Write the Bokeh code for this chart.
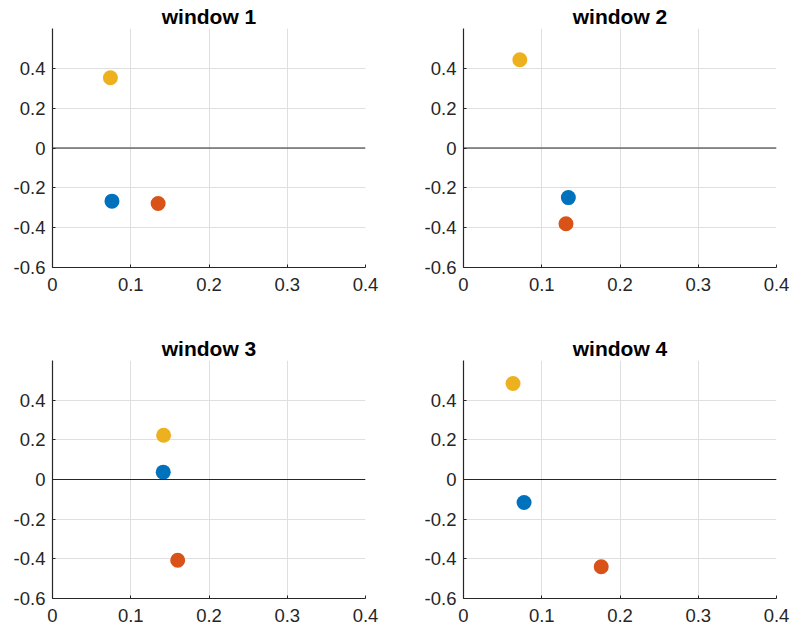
from bokeh.plotting import figure
from bokeh.models import Range1d, FixedTicker, Span
from bokeh.layouts import gridplot
from bokeh.embed import file_html
from bokeh.resources import INLINE

# Panel titles
titles = ["window 1", "window 2", "window 3", "window 4"]

# One point per series in every window (blue, red, yellow)
x_blue = [0.076, 0.134, 0.1415, 0.0774]
y_blue = [-0.267, -0.249, 0.037, -0.116]
x_red = [0.135, 0.131, 0.160, 0.176]
y_red = [-0.279, -0.380, -0.407, -0.440]
x_yellow = [0.074, 0.072, 0.142, 0.0633]
y_yellow = [0.353, 0.443, 0.223, 0.484]

series_colors = ["#0072BD", "#D95319", "#EDB120"]

# Axis ticks and their labels
x_ticks = [0, 0.1, 0.2, 0.3, 0.4]
x_tick_labels = ["0", "0.1", "0.2", "0.3", "0.4"]
y_ticks = [-0.6, -0.4, -0.2, 0, 0.2, 0.4]
y_tick_labels = ["-0.6", "-0.4", "-0.2", "0", "0.2", "0.4"]

FONT = "Liberation Sans"
AXIS_COLOR = "#262626"
GRID_COLOR = "#dfdfdf"


def make_panel(i, left_col, top_row):
    width = 395
    height = 315 if top_row else 316
    p = figure(
        width=width, height=height,
        x_range=Range1d(0, 0.4), y_range=Range1d(-0.6, 0.6),
        output_backend="svg", toolbar_location=None,
        min_border_left=52 if left_col else 68,
        min_border_right=30 if left_col else 14,
        min_border_top=28 if top_row else 45,
        min_border_bottom=48 if top_row else 33,
        title=titles[i],
    )
    p.outline_line_color = None
    p.background_fill_color = "white"
    p.border_fill_color = "white"

    p.title.align = "center"
    p.title.text_font = FONT
    p.title.text_font_size = "21px"
    p.title.text_font_style = "bold"
    p.title.text_color = "black"
    p.title.standoff = 2

    p.xaxis.ticker = FixedTicker(ticks=x_ticks)
    p.yaxis.ticker = FixedTicker(ticks=y_ticks)
    p.xgrid.ticker = FixedTicker(ticks=x_ticks)
    p.ygrid.ticker = FixedTicker(ticks=y_ticks)
    p.xaxis.major_label_overrides = dict(zip(x_ticks, x_tick_labels))
    p.yaxis.major_label_overrides = dict(zip(y_ticks, y_tick_labels))

    for ax in (p.xaxis[0], p.yaxis[0]):
        ax.axis_line_color = AXIS_COLOR
        ax.axis_line_width = 1.2
        ax.major_tick_line_color = AXIS_COLOR
        ax.major_tick_in = 3
        ax.major_tick_out = 0
        ax.minor_tick_line_color = None
        ax.major_label_text_font = FONT
        ax.major_label_text_font_size = "18.5px"
        ax.major_label_text_color = AXIS_COLOR
    p.xaxis.major_label_standoff = 10
    p.yaxis.major_label_standoff = 7

    for g in (p.xgrid[0], p.ygrid[0]):
        g.grid_line_color = GRID_COLOR
        g.grid_line_width = 1

    # zero reference line
    p.add_layout(Span(location=0, dimension="width", line_color=AXIS_COLOR, line_width=1))

    xs = [x_blue[i], x_red[i], x_yellow[i]]
    ys = [y_blue[i], y_red[i], y_yellow[i]]
    p.scatter(xs, ys, size=15, marker="circle", color=series_colors, line_color=None)
    return p


panels = [
    make_panel(0, True, True), make_panel(1, False, True),
    make_panel(2, True, False), make_panel(3, False, False),
]
layout = gridplot([[panels[0], panels[1]], [panels[2], panels[3]]], toolbar_location=None)

open("out.html", "w").write(file_html(layout, INLINE))
